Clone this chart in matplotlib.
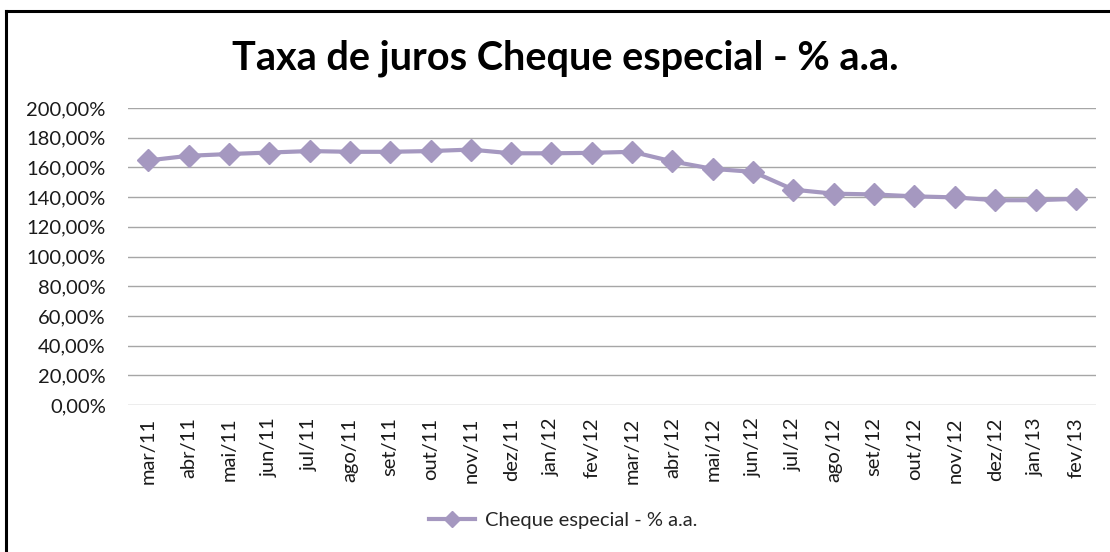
import matplotlib
matplotlib.use("Agg")
from matplotlib import pyplot as plt
from matplotlib.lines import Line2D
from matplotlib.ticker import FuncFormatter

# data
meses = ["mar/11", "abr/11", "mai/11", "jun/11", "jul/11", "ago/11", "set/11",
         "out/11", "nov/11", "dez/11", "jan/12", "fev/12", "mar/12", "abr/12",
         "mai/12", "jun/12", "jul/12", "ago/12", "set/12", "out/12", "nov/12",
         "dez/12", "jan/13", "fev/13"]
taxa = [164.7, 167.8, 169.0, 170.0, 171.0, 170.5, 170.5, 171.0, 172.0, 169.5,
        169.5, 169.8, 170.5, 164.0, 159.0, 157.0, 145.0, 142.3, 141.8, 140.5,
        139.8, 137.9, 137.9, 138.8]
serie = "Cheque especial - % a.a."
titulo = "Taxa de juros Cheque especial - % a.a."

plt.rcParams['font.family'] = ['Lato', 'DejaVu Sans']
W, H = 1110, 552
cor = "#a598c0"

fig = plt.figure(figsize=(W / 100, H / 100), dpi=100)
ax = fig.add_axes([128 / W, 1 - 405 / H, (1096 - 128) / W, (405 - 108) / H])

x = list(range(len(meses)))
ax.plot(x, taxa, color=cor, lw=3.0, marker="D", ms=11, mec=cor, mfc=cor,
        label=serie, solid_joinstyle="round")

ax.set_xlim(-0.5, len(meses) - 0.5)
ax.set_ylim(0, 200)
ax.set_yticks(range(0, 201, 20))
ax.yaxis.set_major_formatter(FuncFormatter(lambda v, p: f"{v:.2f}%".replace(".", ",")))
ax.set_xticks(x)
ax.set_xticklabels(meses, rotation=90)
ax.tick_params(axis="both", length=0, labelsize=14.5, colors="#1a1a1a")
ax.tick_params(axis="y", pad=16)
ax.tick_params(axis="x", pad=9)
ax.grid(axis="y", color="#a6a6a6", lw=1)
ax.set_axisbelow(True)
for s in ax.spines.values():
    s.set_visible(False)

fig.text(565 / W, 1 - 58 / H, titulo, ha="center", va="center",
         fontsize=28.5, fontweight="bold")

fig.legend(loc="center", bbox_to_anchor=(563 / W, 1 - 520 / H), frameon=False,
           fontsize=14.5, handlelength=2.3, handletextpad=0.5, markerscale=0.7,
           labelcolor="#262626")

# chart border (only top and left visible in the crop)
fig.add_artist(Line2D([6 / W, 6 / W], [0, 1 - 11 / H], color="black", lw=2.2,
                      transform=fig.transFigure))
fig.add_artist(Line2D([6 / W, 1], [1 - 11 / H, 1 - 11 / H], color="black", lw=2.2,
                      transform=fig.transFigure))

fig.savefig("out.png", dpi=100)
